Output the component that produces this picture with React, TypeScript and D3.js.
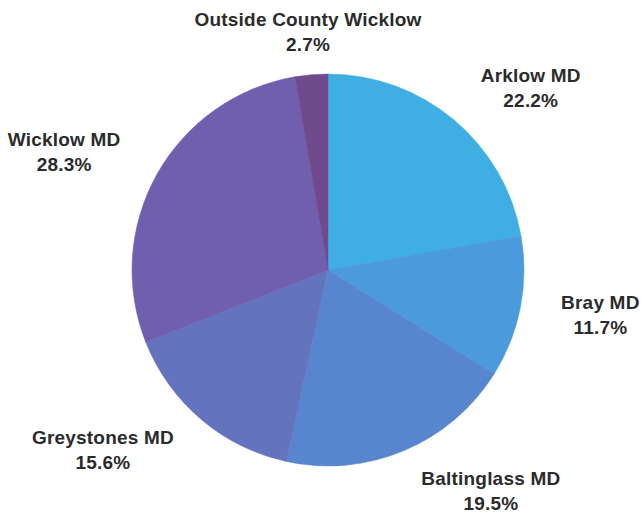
import React from "react";
import * as d3 from "d3";

const categories = ["Arklow MD", "Bray MD", "Baltinglass MD", "Greystones MD", "Wicklow MD", "Outside County Wicklow"];
const values = [22.2, 11.7, 19.5, 15.6, 28.3, 2.7];
const colors = ["#3FAEE2", "#4A9ADC", "#5786CF", "#6473BE", "#705FAE", "#6F4A8C"];

// label layout: angle nudge (deg) relative to slice mid-angle, and label radius
const labelAngleNudge = [7.1, -3, -14.4, 12.1, -4, 0.2];
const labelRadius = [277, 275, 269, 284, 292, 246];

const W = 641;
const H = 513;
const cx = 328;
const cy = 270;
const R = 196;

export default function App() {
  const pie = d3.pie<number>().sort(null).value((d) => d);
  const arcs = pie(values);
  const arc = d3.arc<d3.PieArcDatum<number>>().innerRadius(0).outerRadius(R);

  return (
    <svg width={W} height={H} style={{ position: "absolute", left: 0, top: 0, background: "#fff" }}>
      <g transform={`translate(${cx},${cy})`}>
        {arcs.map((a, i) => (
          <path key={i} d={arc(a) || ""} fill={colors[i]} stroke={colors[i]} strokeWidth={0.5} />
        ))}
        {arcs.map((a, i) => {
          const mid = (a.startAngle + a.endAngle) / 2 + (labelAngleNudge[i] * Math.PI) / 180;
          const r = labelRadius[i];
          const x = Math.sin(mid) * r;
          const y = -Math.cos(mid) * r;
          return (
            <text
              key={"t" + i}
              x={x}
              y={y}
              textAnchor="middle"
              fontFamily="'Liberation Sans', Arial, sans-serif"
              fontWeight="bold"
              fontSize={19}
              letterSpacing={0.2}
              fill="#2b2b2b"
            >
              <tspan x={x} y={y + 1}>{categories[i]}</tspan>
              <tspan x={x} y={y + 26}>{d3.format(".1f")(values[i]) + "%"}</tspan>
            </text>
          );
        })}
      </g>
    </svg>
  );
}
